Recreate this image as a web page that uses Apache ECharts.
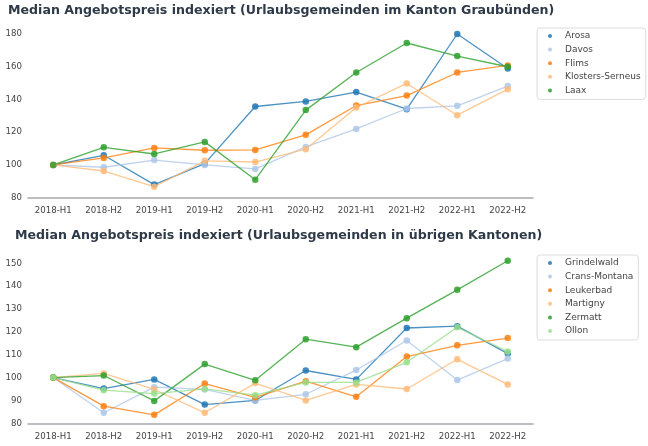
<!DOCTYPE html>
<html><head><meta charset="utf-8">
<script src="https://cdn.jsdelivr.net/npm/echarts@6/dist/echarts.min.js"></script>
<style>html,body{margin:0;padding:0;background:#fff}#c{width:648px;height:446px}</style>
</head><body><div id="c"></div>
<script>
const categories = ['2018-H1','2018-H2','2019-H1','2019-H2','2020-H1','2020-H2','2021-H1','2021-H2','2022-H1','2022-H2'];
const titleTop = 'Median Angebotspreis indexiert (Urlaubsgemeinden im Kanton Graubünden)';
const titleBottom = 'Median Angebotspreis indexiert (Urlaubsgemeinden in übrigen Kantonen)';

const arosa    = [100, 105.9, 88.0, 100.8, 135.7, 138.8, 144.5, 134.1, 180.0, 158.9];
const davos    = [100, 98.6, 103.0, 100.0, 97.6, 111.0, 122.0, 134.5, 136.1, 148.2];
const flims    = [100, 104.3, 110.4, 109.0, 109.2, 118.4, 136.3, 142.4, 156.5, 160.8];
const klosters = [100, 96.3, 86.7, 102.5, 101.8, 109.6, 135.1, 149.8, 130.4, 146.3];
const laax     = [100, 110.8, 106.7, 114.1, 91.0, 133.5, 156.5, 174.5, 166.5, 160.0];

const grindelwald  = [100, 95.2, 99.2, 88.2, 90.0, 103.1, 99.2, 121.7, 122.5, 110.5];
const cransMontana = [100, 84.6, 95.8, 94.8, 90.0, 92.7, 103.3, 116.2, 98.9, 108.3];
const leukerbad    = [100, 87.5, 83.7, 97.4, 91.3, 98.4, 91.6, 109.2, 114.1, 117.3];
const martigny     = [100, 101.8, 94.8, 84.6, 97.6, 90.0, 97.0, 95.0, 108.0, 97.0];
const zermatt      = [100, 100.9, 89.8, 105.9, 98.8, 116.8, 113.3, 126.0, 138.4, 151.1];
const ollon        = [100, 94.5, 93.0, 95.1, 92.3, 97.9, 97.9, 106.7, 122.0, 111.4];

const topNames = ['Arosa','Davos','Flims','Klosters-Serneus','Laax'];
const topData = [arosa, davos, flims, klosters, laax];
const botNames = ['Grindelwald','Crans-Montana','Leukerbad','Martigny','Zermatt','Ollon'];
const botData = [grindelwald, cransMontana, leukerbad, martigny, zermatt, ollon];

const topColors = ['#1f77b4','#aec7e8','#ff7f0e','#ffbb78','#2ca02c'];
const botColors = ['#1f77b4','#aec7e8','#ff7f0e','#ffbb78','#2ca02c','#98df8a'];

const FONT = 'DejaVu Sans';
const chart = echarts.init(document.getElementById('c'), null, {renderer:'canvas'});

function xAxis(gi){
  return {type:'category', gridIndex:gi, data:categories, boundaryGap:true,
    axisLine:{lineStyle:{color:'#a6a9ad', width:1.6}}, axisTick:{show:false},
    axisLabel:{color:'#444', fontFamily:FONT, fontSize:8.6, margin:9}, splitLine:{show:false}};
}
function yAxis(gi,min,max,interval){
  return {type:'value', gridIndex:gi, min:min, max:max, interval:interval,
    axisLine:{show:false}, axisTick:{show:false}, splitLine:{show:false},
    axisLabel:{color:'#444', fontFamily:FONT, fontSize:8.6, margin:6}};
}
function mkSeries(names, data, colors, gi){
  return names.map((n,i)=>({name:n, type:'line', xAxisIndex:gi, yAxisIndex:gi, data:data[i],
    symbol:'circle', symbolSize:6.5, clip:false,
    lineStyle:{width:1.3, color:colors[i], opacity:0.8},
    itemStyle:{color:colors[i], opacity:0.85}, emphasis:{disabled:true}}));
}
function legend(names, colors, top){
  return {orient:'vertical', left:537, top:top,
    data:names.map((n,i)=>({name:n, itemStyle:{color:colors[i]}})),
    icon:'circle', itemWidth:20, itemHeight:4, itemGap:1.6, padding:[2,5,3,11],
    borderColor:'#dcdcdc', borderWidth:1, borderRadius:3, backgroundColor:'#fff',
    textStyle:{fontFamily:FONT, fontSize:9, color:'#444', lineHeight:12},
    selectedMode:false};
}
const option = {
  animation:false,
  title:[
    {text:titleTop, left:3, top:-1, textStyle:{fontFamily:FONT, fontWeight:'bold', fontSize:12.6, color:'#2f3a48'}},
    {text:titleBottom, left:10, top:224, textStyle:{fontFamily:FONT, fontWeight:'bold', fontSize:12.6, color:'#2f3a48'}}
  ],
  grid:[
    {left:28, width:505, top:34, height:163.7},
    {left:28, width:505, top:263.3, height:160}
  ],
  xAxis:[xAxis(0), xAxis(1)],
  yAxis:[yAxis(0,80,180,20), yAxis(1,80,150,10)],
  legend:[legend(topNames, topColors, 28), legend(botNames, botColors, 255)],
  series:[...mkSeries(topNames, topData, topColors, 0), ...mkSeries(botNames, botData, botColors, 1)]
};
chart.setOption(option);
</script></body></html>
